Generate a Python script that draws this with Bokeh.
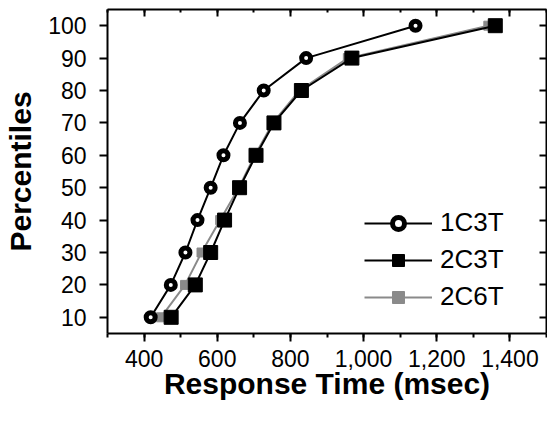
from bokeh.plotting import figure
from bokeh.models import (LinearAxis, SingleIntervalTicker, FixedTicker, Legend,
                          LegendItem, Range1d, NumeralTickFormatter, CustomJSTickFormatter)
from bokeh.embed import file_html
from bokeh.resources import INLINE

percentiles = [10, 20, 30, 40, 50, 60, 70, 80, 90, 100]
t_1c3t = [418, 473, 513, 546, 582, 617, 662, 727, 843, 1142]
t_2c3t = [474, 540, 582, 620, 661, 706, 755, 830, 968, 1360]
t_2c6t = [446, 512, 557, 608, 659, 703, 752, 825, 957, 1341]
y_ticks = [10, 20, 30, 40, 50, 60, 70, 80, 90, 100]

FONT = "Liberation Sans"

p = figure(width=547, height=421, x_range=Range1d(300, 1500), y_range=Range1d(5, 105),
           output_backend="svg", toolbar_location=None,
           min_border_left=107, min_border_right=1, min_border_top=9, min_border_bottom=88,
           x_axis_label="Response Time (msec)", y_axis_label="Percentiles")
p.xgrid.visible = False
p.ygrid.visible = False
p.outline_line_color = None
p.background_fill_color = "white"

# series (draw gray first so black squares sit on top)
l3 = p.line(t_2c6t, percentiles, line_color="#8a8a8a", line_width=2)
s3 = p.scatter(t_2c6t, percentiles, marker="square", size=9, fill_color="#8a8a8a",
               line_color="#8a8a8a", line_width=1)
l2 = p.line(t_2c3t, percentiles, line_color="black", line_width=2)
s2 = p.scatter(t_2c3t, percentiles, marker="square", size=14, fill_color="black",
               line_color="black", line_width=1)
l1 = p.line(t_1c3t, percentiles, line_color="black", line_width=2)
s1 = p.scatter(t_1c3t, percentiles, marker="circle", size=9, fill_color="white",
               line_color="black", line_width=5)

# bottom axis
xa = p.xaxis[0]
xa.ticker = SingleIntervalTicker(interval=200, num_minor_ticks=2)
xa.formatter = NumeralTickFormatter(format="0,0")
xa.major_tick_out = 8
xa.major_tick_in = 0
xa.minor_tick_out = 4
xa.minor_tick_in = 0
xa.major_label_standoff = 8
xa.axis_label_standoff = -3

# left axis
ya = p.yaxis[0]
ya.ticker = FixedTicker(ticks=y_ticks)
ya.major_tick_out = 8
ya.major_tick_in = 0
ya.minor_tick_line_color = None
ya.major_label_standoff = 13
ya.axis_label_standoff = 8

for ax in (xa, ya):
    ax.axis_line_width = 2
    ax.major_tick_line_width = 2
    ax.minor_tick_line_width = 2
    ax.major_label_text_font = FONT
    ax.major_label_text_font_size = "23px"
    ax.major_label_text_color = "black"
    ax.axis_label_text_font = FONT
    ax.axis_label_text_font_size = "30px"
    ax.axis_label_text_font_style = "bold"
    ax.axis_label_text_color = "black"

blank = CustomJSTickFormatter(code="return '';")

# top axis: ticks inside, no labels
top = LinearAxis(ticker=SingleIntervalTicker(interval=200, num_minor_ticks=2),
                 formatter=blank,
                 major_tick_in=7, major_tick_out=0, minor_tick_in=3, minor_tick_out=0,
                 major_label_standoff=0,
                 axis_line_width=2, major_tick_line_width=2, minor_tick_line_width=2)
p.add_layout(top, "above")

# right axis: ticks inside, no labels
right = LinearAxis(ticker=FixedTicker(ticks=y_ticks), formatter=blank,
                   major_tick_in=7, major_tick_out=0, minor_tick_line_color=None,
                   major_label_standoff=0,
                   axis_line_width=2, major_tick_line_width=2)
p.add_layout(right, "right")

legend = Legend(items=[LegendItem(label="1C3T", renderers=[l1, s1]),
                       LegendItem(label="2C3T", renderers=[l2, s2]),
                       LegendItem(label="2C6T", renderers=[l3, s3])],
                location=(257, 21), orientation="vertical",
                glyph_width=68, glyph_height=30, label_height=30, spacing=6,
                label_standoff=8, padding=0, margin=0,
                border_line_color=None, background_fill_alpha=0,
                label_text_font=FONT, label_text_font_size="26px",
                label_text_color="black")
p.add_layout(legend, "center")

open("out.html", "w").write(file_html(p, INLINE))
